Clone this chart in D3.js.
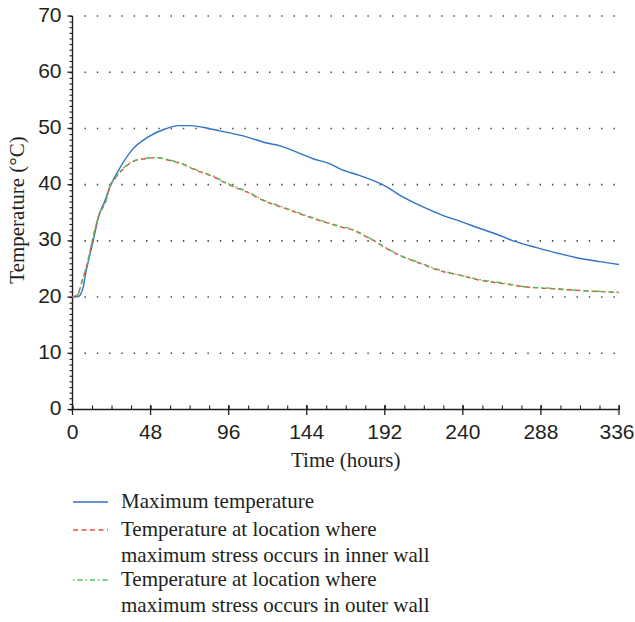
<!DOCTYPE html>
<html>
<head>
<meta charset="utf-8">
<script src="https://cdn.jsdelivr.net/npm/d3@7"></script>
<style>
  html, body { margin: 0; padding: 0; background: #fff; }
  svg { display: block; font-family: "Liberation Serif", "Times New Roman", serif; }
</style>
</head>
<body>
<svg id="chart" width="635" height="622"></svg>
<script>
// ---- Data ----
const xTicks = [0, 48, 96, 144, 192, 240, 288, 336];
const yTicks = [0, 10, 20, 30, 40, 50, 60, 70];

const seriesNames = [
  "Maximum temperature",
  "Temperature at location where|maximum stress occurs in inner wall",
  "Temperature at location where|maximum stress occurs in outer wall"
];

const timeMax = [0, 3.6, 6.6, 8.1, 10.8, 12.8, 15.9, 20, 23, 28.2, 36.4, 46.6, 56.9, 65, 72, 80, 86.6, 96.8, 107, 119.4, 127.6, 137.8, 148, 158.3, 164.5, 176.8, 193.2, 201.4, 213.6, 228, 238.2, 250.5, 258.7, 271, 285.4, 299.7, 310, 324.3, 336];
const tempMax = [20, 20.1, 21.8, 24.2, 27.7, 30.1, 34.2, 37.2, 39.6, 42.5, 46.1, 48.5, 49.9, 50.5, 50.5, 50.2, 49.8, 49.2, 48.5, 47.4, 46.9, 45.8, 44.6, 43.7, 42.8, 41.6, 39.6, 38.1, 36.3, 34.5, 33.5, 32.2, 31.4, 30.0, 28.8, 27.7, 27.0, 26.3, 25.8];

const timeInner = [0, 2, 3.6, 6.6, 8.7, 11.8, 15.9, 21, 23, 26, 30.2, 36.4, 44.6, 50.7, 61, 66, 76.4, 86.6, 96.8, 107, 119.4, 129.6, 139.9, 152.2, 164.5, 172.6, 178.8, 185, 193.2, 203.4, 213.6, 228, 238.2, 250.5, 264.9, 279.3, 293.6, 310, 336];
const tempInner = [20, 20.2, 20.7, 23.6, 25.4, 29.5, 34.2, 37.5, 39.7, 41, 42.5, 44, 44.6, 44.8, 44.2, 43.8, 42.5, 41.4, 39.9, 38.7, 36.9, 35.9, 34.8, 33.6, 32.5, 31.9, 31.0, 30.1, 28.6, 27.1, 26.0, 24.5, 23.9, 23.0, 22.4, 21.8, 21.5, 21.2, 20.8];

const timeOuter = [0, 2, 3.6, 6.6, 8.7, 11.8, 15.9, 21, 23, 26, 30.2, 36.4, 44.6, 50.7, 61, 66, 76.4, 86.6, 96.8, 107, 119.4, 129.6, 139.9, 152.2, 164.5, 172.6, 178.8, 185, 193.2, 203.4, 213.6, 228, 238.2, 250.5, 264.9, 279.3, 293.6, 310, 336];
const tempOuter = [20, 20.1, 20.6, 23.5, 25.5, 29.6, 34.3, 37.6, 39.8, 41.1, 42.6, 44.1, 44.7, 44.8, 44.3, 43.9, 42.6, 41.5, 40.0, 38.8, 37.0, 36.0, 34.9, 33.7, 32.6, 32.0, 31.1, 30.1, 28.7, 27.2, 26.1, 24.6, 23.9, 23.1, 22.5, 21.8, 21.6, 21.2, 20.9];

const colors = ["#2f74c5", "#ea4e3c", "#52c15c"];

// ---- Layout ----
const svg = d3.select("#chart");
const mLeft = 72.5, mRight = 619, mTop = 16, mBottom = 409.5;
const x = d3.scaleLinear().domain([0, 336]).range([mLeft, mRight]);
const y = d3.scaleLinear().domain([0, 70]).range([mBottom, mTop]);
const axisColor = "#231f20";
const fontSize = 21;

// Grid (dotted)
svg.append("g").selectAll("line").data(yTicks.filter(d => d > 0)).join("line")
  .attr("x1", x(0) + 12).attr("x2", x(336))
  .attr("y1", d => y(d)).attr("y2", d => y(d))
  .attr("stroke", "#444").attr("stroke-width", 1.6)
  .attr("stroke-dasharray", "1.4 10.9");

// Y axis
const yAxisG = svg.append("g").attr("transform", `translate(${mLeft},0)`);
yAxisG.call(d3.axisLeft(y).tickValues(d3.range(0, 71, 1)).tickSize(3).tickFormat(""))
  .call(g => g.select(".domain").remove());
yAxisG.selectAll(".tick line").attr("stroke", axisColor).attr("stroke-width", 1.1);
yAxisG.append("line").attr("x1", 0).attr("x2", 0).attr("y1", y(0)).attr("y2", y(70))
  .attr("stroke", axisColor).attr("stroke-width", 1.4);
yAxisG.selectAll(".major").data(yTicks).join("line")
  .attr("x1", -5).attr("x2", 0).attr("y1", d => y(d)).attr("y2", d => y(d))
  .attr("stroke", axisColor).attr("stroke-width", 1.3);
yAxisG.selectAll(".ylab").data(yTicks).join("text")
  .attr("x", -11).attr("y", d => y(d) + 5.5)
  .attr("text-anchor", "end").attr("font-size", fontSize).attr("fill", axisColor)
  .text(d => d);

// X axis
const xAxisG = svg.append("g").attr("transform", `translate(0,${mBottom})`);
xAxisG.call(d3.axisTop(x).tickValues(d3.range(0, 337, 12)).tickSize(4).tickFormat(""))
  .call(g => g.select(".domain").remove());
xAxisG.selectAll(".tick line").attr("stroke", axisColor).attr("stroke-width", 1.1);
xAxisG.append("line").attr("x1", x(0)).attr("x2", x(336)).attr("y1", 0).attr("y2", 0)
  .attr("stroke", axisColor).attr("stroke-width", 1.4);
xAxisG.selectAll(".major").data(xTicks).join("line")
  .attr("x1", d => x(d)).attr("x2", d => x(d)).attr("y1", -4.5).attr("y2", 5.5)
  .attr("stroke", axisColor).attr("stroke-width", 1.3);
xAxisG.selectAll(".xlab").data(xTicks).join("text")
  .attr("x", d => d === 336 ? x(d) - 2 : x(d)).attr("y", 29)
  .attr("text-anchor", "middle").attr("font-size", fontSize).attr("fill", axisColor)
  .text(d => d);

// Axis titles
svg.append("text").attr("x", (mLeft + mRight) / 2).attr("y", 467)
  .attr("text-anchor", "middle").attr("font-size", fontSize).attr("fill", axisColor)
  .text("Time (hours)");
svg.append("text").attr("transform", `translate(24,${210}) rotate(-90)`)
  .attr("text-anchor", "middle").attr("font-size", fontSize).attr("fill", axisColor)
  .text("Temperature (°C)");

// Lines
const line = d3.line().x(d => x(d[0])).y(d => y(d[1])).curve(d3.curveMonotoneX);
const series = [
  { data: d3.zip(timeMax, tempMax), color: colors[0], dash: null },
  { data: d3.zip(timeInner, tempInner), color: colors[1], dash: "5 3.5" },
  { data: d3.zip(timeOuter, tempOuter), color: colors[2], dash: "1.5 3 5 3" }
];
svg.append("g").selectAll("path").data(series).join("path")
  .attr("d", d => line(d.data))
  .attr("fill", "none").attr("stroke", d => d.color).attr("stroke-width", 1.4)
  .attr("stroke-dasharray", d => d.dash);

// Legend
const legendY = [502, 530, 580];
const legendG = svg.append("g");
seriesNames.forEach((name, i) => {
  legendG.append("line").attr("x1", 73).attr("x2", 108)
    .attr("y1", legendY[i]).attr("y2", legendY[i])
    .attr("stroke", colors[i]).attr("stroke-width", 1.4)
    .attr("stroke-dasharray", series[i].dash);
  const lines = name.split("|");
  const t = legendG.append("text").attr("font-size", fontSize).attr("fill", axisColor);
  lines.forEach((ln, j) => {
    t.append("tspan").attr("x", 121).attr("y", legendY[i] + 6 + j * 25.5).text(ln);
  });
});
</script>
</body>
</html>
